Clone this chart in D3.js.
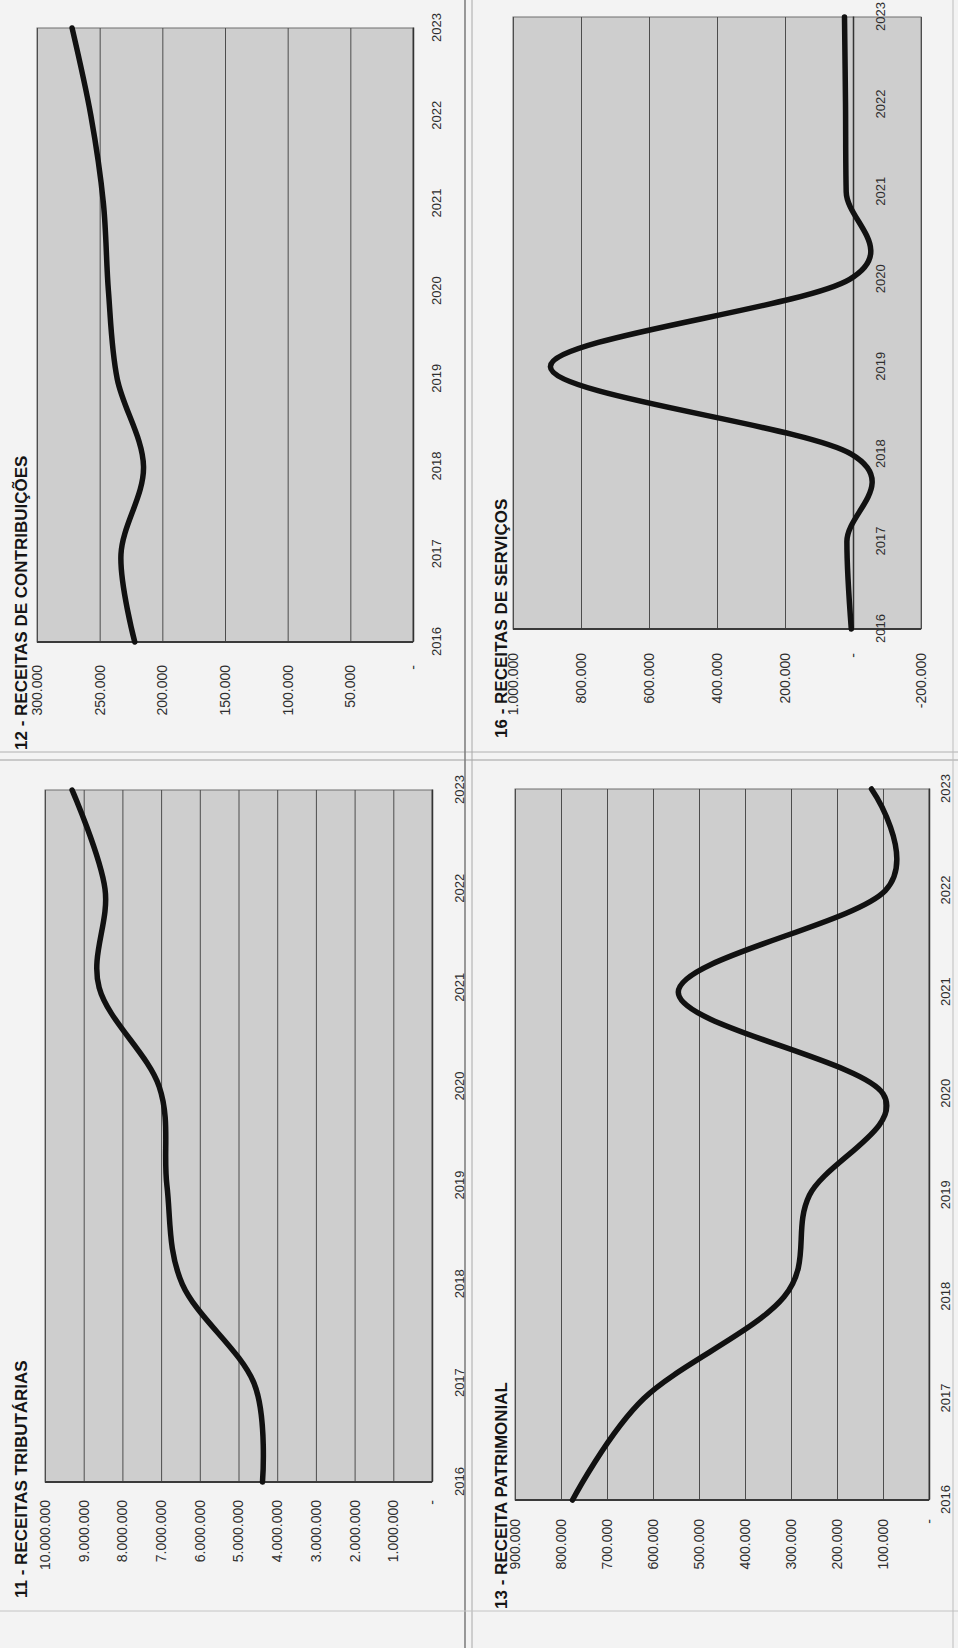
<!DOCTYPE html>
<html>
<head>
<meta charset="utf-8">
<script src="https://cdn.jsdelivr.net/npm/d3@7"></script>
<style>
  html, body { margin: 0; padding: 0; background: #f2f2f2; }
  svg { display: block; }
  text { font-family: "Liberation Sans", Arial, sans-serif; }
</style>
</head>
<body>
<svg id="chart" width="958" height="1648"></svg>
<script>
// ---------------- DATA ----------------
const years = ["2016", "2017", "2018", "2019", "2020", "2021", "2022", "2023"];

const tributariasValues    = [4380000, 4600000, 6450000, 6850000, 7050000, 8600000, 8450000, 9300000];
const contribuicoesValues  = [222000, 233000, 215000, 236000, 243000, 247000, 257000, 272000];
const patrimonialValues    = [775000, 620000, 315000, 260000, 100000, 545000, 95000, 125000];
const servicosValues       = [5000, 18000, 5000, 890000, 10000, 20000, 22000, 25000];

const tributariasTicks   = [0, 1000000, 2000000, 3000000, 4000000, 5000000, 6000000, 7000000, 8000000, 9000000, 10000000];
const contribuicoesTicks = [0, 50000, 100000, 150000, 200000, 250000, 300000];
const patrimonialTicks   = [0, 100000, 200000, 300000, 400000, 500000, 600000, 700000, 800000, 900000];
const servicosTicks      = [-200000, 0, 200000, 400000, 600000, 800000, 1000000];

const titles = {
  c11: "11 - RECEITAS TRIBUTÁRIAS",
  c12: "12 - RECEITAS DE CONTRIBUIÇÕES",
  c13: "13 - RECEITA PATRIMONIAL",
  c16: "16 - RECEITAS DE SERVIÇOS"
};

// ---------------- LAYOUT (landscape frame, rotated onto the portrait page) ----------------
const charts = [
  { key: "c11", values: tributariasValues,   ticks: tributariasTicks,
    u0: 166, u1: 858, v0: 45, v1: 432, titleU: 50, titleV: 27, gap: 18, yearPad: 23 },
  { key: "c12", values: contribuicoesValues, ticks: contribuicoesTicks,
    u0: 1006, u1: 1620, v0: 37, v1: 413, titleU: 898, titleV: 27, gap: 23, yearPad: 19 },
  { key: "c13", values: patrimonialValues,   ticks: patrimonialTicks,
    u0: 148, u1: 859, v0: 515, v1: 929, titleU: 39, titleV: 507, gap: 19, yearPad: 12 },
  { key: "c16", values: servicosValues,      ticks: servicosTicks,
    u0: 1019, u1: 1631, v0: 513, v1: 921, titleU: 910, titleV: 507, gap: 24, yearPad: 23, axisAtZero: true }
];

const locale = d3.formatLocale({ decimal: ",", thousands: ".", grouping: [3], currency: ["", ""], minus: "-" });
const fmt = locale.format(",.0f");
const tickFmt = v => v === 0 ? "-" : fmt(v);

const svg = d3.select("#chart");
svg.append("rect").attr("width", 958).attr("height", 1648).attr("fill", "#f3f3f3");

// landscape frame 1648 x 958 rotated -90deg
const root = svg.append("g").attr("transform", "translate(0,1648) rotate(-90)");

// page separators (edges of the pasted sheets)
root.append("line").attr("x1", 888).attr("x2", 888).attr("y1", 0).attr("y2", 958)
  .attr("stroke", "#a0a0a0").attr("stroke-width", 1.2);
root.append("line").attr("x1", 896).attr("x2", 896).attr("y1", 0).attr("y2", 958)
  .attr("stroke", "#b0b0b0").attr("stroke-width", 1);
root.append("line").attr("x1", 0).attr("x2", 1648).attr("y1", 465).attr("y2", 465)
  .attr("stroke", "#808080").attr("stroke-width", 1.6);
root.append("line").attr("x1", 0).attr("x2", 1648).attr("y1", 472).attr("y2", 472)
  .attr("stroke", "#a8a8a8").attr("stroke-width", 1);
root.append("line").attr("x1", 37).attr("x2", 37).attr("y1", 0).attr("y2", 958)
  .attr("stroke", "#c4c4c4").attr("stroke-width", 1);
root.append("line").attr("x1", 0).attr("x2", 1648).attr("y1", 953).attr("y2", 953)
  .attr("stroke", "#bdbdbd").attr("stroke-width", 1);

charts.forEach(c => {
  const g = root.append("g");
  const x = d3.scalePoint().domain(years).range([c.u0, c.u1]).padding(0);
  const y = d3.scaleLinear().domain(d3.extent(c.ticks)).range([c.v1, c.v0]);

  // plot background
  g.append("rect")
    .attr("x", c.u0).attr("y", c.v0)
    .attr("width", c.u1 - c.u0).attr("height", c.v1 - c.v0)
    .attr("fill", "#cecece").attr("stroke", "#6e6e6e").attr("stroke-width", 1);

  // value axis with gridlines
  const yAxis = d3.axisLeft(y)
    .tickValues(c.ticks)
    .tickSize(-(c.u1 - c.u0))
    .tickPadding(c.gap)
    .tickFormat(tickFmt);
  const ya = g.append("g").attr("transform", `translate(${c.u0},0)`).call(yAxis);
  ya.select(".domain").remove();
  ya.selectAll(".tick line").attr("stroke", "#4d4d4d").attr("stroke-width", 1);
  ya.selectAll(".tick text")
    .attr("fill", "#2e2e2e")
    .style("font-size", "14px")
    .style("font-family", "'Liberation Sans', Arial, sans-serif");

  // value axis line
  g.append("line").attr("x1", c.u0).attr("x2", c.u0).attr("y1", c.v0).attr("y2", c.v1)
    .attr("stroke", "#3a3a3a").attr("stroke-width", 2);

  // category axis
  const axisV = c.axisAtZero ? y(0) : c.v1;
  const xAxis = d3.axisBottom(x).tickSize(0).tickPadding(c.yearPad);
  const xa = g.append("g").attr("transform", `translate(0,${axisV})`).call(xAxis);
  xa.select(".domain").attr("stroke", "#333").attr("stroke-width", 1.5);
  xa.selectAll(".tick text")
    .attr("fill", "#2e2e2e")
    .style("font-size", "13px")
    .style("font-family", "'Liberation Sans', Arial, sans-serif");

  // smoothed line
  const line = d3.line()
    .x((d, i) => x(years[i]))
    .y(d => y(d))
    .curve(d3.curveCardinal.tension(0));
  g.append("path")
    .datum(c.values)
    .attr("d", line)
    .attr("fill", "none")
    .attr("stroke", "#111")
    .attr("stroke-width", 5.5)
    .attr("stroke-linejoin", "round")
    .attr("stroke-linecap", "round");

  // title
  g.append("text")
    .attr("x", c.titleU).attr("y", c.titleV)
    .attr("fill", "#151515")
    .style("font-size", "17px")
    .style("font-weight", "bold")
    .text(titles[c.key]);
});
</script>
</body>
</html>
